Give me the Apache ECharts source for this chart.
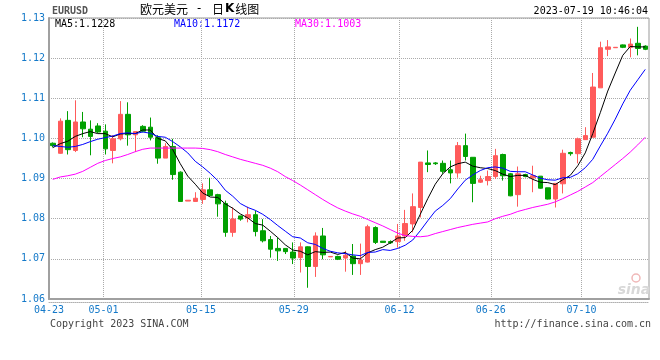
<!DOCTYPE html>
<html><head><meta charset="utf-8">
<script src="https://cdn.jsdelivr.net/npm/echarts@6/dist/echarts.min.js"></script>
<style>html,body{margin:0;padding:0;background:#fff}#c{width:660px;height:360px}</style>
</head><body><div id="c"></div>
<script>
// ---- data ----
const opens = [1.0988,1.0963,1.1045,1.0970,1.1041,1.1023,1.1031,1.1018,1.0970,1.0999,
1.1060,1.1009,1.1030,1.1028,1.1002,1.0951,1.0980,1.0916,1.0844,1.0843,
1.0848,1.0872,1.0860,1.0838,1.0766,1.0807,1.0802,1.0810,1.0770,1.0748,
1.0726,1.0726,1.0717,1.0703,1.0730,1.0681,1.0757,1.0705,1.0706,1.0702,
1.0707,1.0688,1.0692,1.0778,1.0744,1.0743,1.0743,1.0757,1.0787,1.0828,
1.0939,1.0939,1.0938,1.0922,1.0914,1.0982,1.0953,1.0891,1.0895,1.0905,
1.0960,1.0912,1.0860,1.0910,1.0902,1.0906,1.0877,1.0849,1.0887,1.0965,
1.0962,1.0997,1.1003,1.1126,1.1222,1.1226,1.1233,1.1227,1.1237,1.1230];
const closes = [1.0982,1.1043,1.0972,1.1041,1.1024,1.1005,1.1016,1.0974,1.0999,1.1060,
1.1009,1.1017,1.1018,1.1003,1.0951,1.0980,1.0910,1.0843,1.0846,1.0851,
1.0872,1.0858,1.0837,1.0766,1.0799,1.0799,1.0810,1.0768,1.0745,1.0724,
1.0720,1.0718,1.0702,1.0730,1.0681,1.0757,1.0710,1.0706,1.0699,1.0709,
1.0688,1.0697,1.0780,1.0741,1.0741,1.0740,1.0757,1.0788,1.0830,1.0941,
1.0935,1.0937,1.0918,1.0914,1.0982,1.0955,1.0888,1.0897,1.0905,1.0957,
1.0907,1.0857,1.0912,1.0905,1.0907,1.0876,1.0849,1.0888,1.0963,1.0962,
1.0999,1.1007,1.1128,1.1226,1.1228,1.1227,1.1227,1.1235,1.1224,1.1222];
const lows = [1.0978,1.0962,1.0960,1.0966,1.1003,1.0958,1.1013,1.0960,1.0938,1.0995,
1.0982,1.0966,1.1015,1.0995,1.0937,1.0951,1.0897,1.0843,1.0844,1.0843,
1.0837,1.0855,1.0805,1.0755,1.0755,1.0795,1.0791,1.0756,1.0741,1.0703,
1.0695,1.0712,1.0687,1.0666,1.0628,1.0655,1.0699,1.0705,1.0697,1.0668,
1.0660,1.0660,1.0691,1.0737,1.0741,1.0737,1.0728,1.0745,1.0766,1.0803,
1.0916,1.0934,1.0912,1.0888,1.0902,1.0945,1.0841,1.0889,1.0883,1.0899,
1.0895,1.0856,1.0830,1.0903,1.0866,1.0875,1.0848,1.0828,1.0863,1.0957,
1.0938,1.0997,1.1003,1.1126,1.1205,1.1226,1.1225,1.1202,1.1207,1.1220];
const highs = [1.0990,1.1050,1.1068,1.1095,1.1066,1.1045,1.1038,1.1035,1.1008,1.1093,
1.1090,1.1017,1.1033,1.1052,1.1008,1.0988,1.0999,1.0918,1.0846,1.0866,
1.0888,1.0902,1.0862,1.0845,1.0828,1.0807,1.0830,1.0820,1.0799,1.0757,
1.0753,1.0726,1.0741,1.0741,1.0731,1.0766,1.0777,1.0706,1.0708,1.0720,
1.0737,1.0738,1.0785,1.0781,1.0744,1.0746,1.0787,1.0822,1.0863,1.0941,
1.0970,1.0941,1.0945,1.0945,1.0991,1.1012,1.0953,1.0907,1.0920,1.0974,
1.0962,1.0914,1.0930,1.0912,1.0932,1.0906,1.0877,1.0888,1.0972,1.0967,
1.1002,1.1028,1.1163,1.1241,1.1245,1.1227,1.1234,1.1249,1.1278,1.1232];
const ma5 = [1.0977,1.0987,1.0993,1.1005,1.1012,1.1017,1.1012,1.1012,1.1004,1.1011,
1.1012,1.1012,1.1021,1.1021,1.1000,1.0994,1.0972,1.0937,1.0906,1.0886,
1.0864,1.0854,1.0853,1.0837,1.0826,1.0812,1.0802,1.0788,1.0784,1.0769,
1.0753,1.0735,1.0722,1.0719,1.0710,1.0718,1.0716,1.0717,1.0711,1.0716,
1.0702,1.0700,1.0715,1.0723,1.0729,1.0740,1.0752,1.0753,1.0771,1.0811,
1.0850,1.0886,1.0912,1.0929,1.0937,1.0941,1.0931,1.0927,1.0925,1.0920,
1.0911,1.0905,1.0908,1.0908,1.0898,1.0891,1.0890,1.0885,1.0897,1.0908,
1.0932,1.0964,1.1012,1.1064,1.1118,1.1163,1.1207,1.1229,1.1228,1.1228];
const ma10 = [1.0982,1.0980,1.0978,1.0980,1.0985,1.0992,1.0998,1.1002,1.1006,1.1012,
1.1014,1.1012,1.1016,1.1013,1.1005,1.1003,1.0992,1.0979,1.0964,1.0943,
1.0929,1.0913,1.0895,1.0871,1.0856,1.0838,1.0828,1.0821,1.0811,1.0798,
1.0783,1.0769,1.0755,1.0752,1.0740,1.0736,1.0726,1.0719,1.0715,1.0713,
1.0710,1.0708,1.0716,1.0717,1.0723,1.0721,1.0726,1.0734,1.0747,1.0770,
1.0795,1.0819,1.0833,1.0850,1.0874,1.0896,1.0909,1.0920,1.0927,1.0929,
1.0926,1.0918,1.0917,1.0917,1.0909,1.0901,1.0897,1.0896,1.0902,1.0903,
1.0912,1.0927,1.0948,1.0981,1.1013,1.1048,1.1086,1.1120,1.1146,1.1172];
const ma30 = [1.0898,1.0904,1.0907,1.0911,1.0918,1.0928,1.0938,1.0945,1.0950,1.0954,
1.0960,1.0967,1.0973,1.0976,1.0976,1.0976,1.0976,1.0976,1.0976,1.0976,
1.0975,1.0972,1.0967,1.0960,1.0954,1.0948,1.0943,1.0938,1.0933,1.0926,
1.0917,1.0905,1.0895,1.0884,1.0872,1.0860,1.0848,1.0837,1.0827,1.0819,
1.0812,1.0806,1.0798,1.0790,1.0782,1.0773,1.0764,1.0758,1.0756,1.0755,
1.0757,1.0763,1.0768,1.0773,1.0778,1.0782,1.0786,1.0789,1.0792,1.0800,
1.0806,1.0811,1.0818,1.0823,1.0828,1.0832,1.0836,1.0842,1.0850,1.0859,
1.0868,1.0879,1.0890,1.0905,1.0920,1.0935,1.0950,1.0966,1.0984,1.1003];
const dateLabels = ['04-23','05-01','05-15','05-29','06-12','06-26','07-10'];
const symbolName = 'EURUSD';
const titleCN = '欧元美元';
const stamp = '2023-07-19 10:46:04';

// ---- chart ----
const categories = opens.map((_, i) => String(i + 1));
const candleData = opens.map((o, i) => [o, closes[i], lows[i], highs[i]]);
const datePos = [0, 7.27, 20.27, 32.64, 46.73, 58.9, 71.0]; // label positions in candle units
const mono = '"DejaVu Sans Mono", monospace';
const cjk = '"Noto Sans CJK SC", sans-serif';
const blueLbl = '#1479c9';
const dots = [1, 1];
const last = a => a[a.length - 1].toFixed(4);

const chart = echarts.init(document.getElementById('c'), null, {renderer: 'canvas'});
chart.setOption({
  animation: false,
  backgroundColor: '#fff',
  grid: {left: 49, right: 11, top: 18, bottom: 61, show: true, borderColor: '#999', borderWidth: 1, backgroundColor: 'transparent'},
  xAxis: [
    {type: 'category', data: categories, position: 'bottom', boundaryGap: true,
     axisLine: {show: true, onZero: false, lineStyle: {color: '#a0a0a0', width: 2}},
     axisTick: {show: false}, axisLabel: {show: false}, splitLine: {show: false}},
    {type: 'value', min: 0, max: categories.length, position: 'bottom', offset: 3,
     axisLine: {show: true, onZero: false, lineStyle: {color: '#b0b0b0', type: dots}},
     axisTick: {show: false, customValues: datePos},
     axisLabel: {customValues: datePos, color: blueLbl, fontFamily: mono, fontSize: 10, margin: 3,
       formatter: v => { let k = 0, b = 1e9; datePos.forEach((p, i) => { if (Math.abs(p - v) < b) { b = Math.abs(p - v); k = i; } }); return dateLabels[k]; }},
     splitLine: {show: true, lineStyle: {color: '#aaa', type: dots}}}
  ],
  yAxis: {type: 'value', min: 1.06, max: 1.13, interval: 0.01,
    axisLine: {show: true, lineStyle: {color: '#a0a0a0', width: 2}},
    axisTick: {show: false},
    axisLabel: {color: blueLbl, fontFamily: mono, fontSize: 10, margin: 4, formatter: v => v.toFixed(2)},
    splitLine: {show: true, lineStyle: {color: '#aaa', type: dots}}},
  series: [
    {type: 'candlestick', xAxisIndex: 0, data: candleData, barWidth: 5,
     itemStyle: {color: '#ff5b5b', color0: '#00a000', borderColor: '#ff5b5b', borderColor0: '#00a000', borderWidth: 1}},
    {type: 'line', name: 'MA5', data: ma5, symbol: 'none', lineStyle: {color: '#000', width: 1}, z: 5},
    {type: 'line', name: 'MA10', data: ma10, symbol: 'none', lineStyle: {color: '#0000ff', width: 1}, z: 5},
    {type: 'line', name: 'MA30', data: ma30, symbol: 'none', lineStyle: {color: '#ff00ff', width: 1}, z: 5}
  ],
  graphic: [
    {type: 'text', x: 52, y: 11, style: {text: symbolName, fill: '#555', font: 'bold 10px ' + mono, verticalAlign: 'middle'}},
    {type: 'text', x: 140, y: 9, style: {text: titleCN, fill: '#000', font: '12px ' + cjk, verticalAlign: 'middle'}},
    {type: 'text', x: 199, y: 9, style: {text: '-', fill: '#000', font: '12px ' + mono, verticalAlign: 'middle', align: 'center'}},
    {type: 'text', x: 212, y: 9, style: {text: '{a|日}{b|K}{a|线图}', verticalAlign: 'middle',
      rich: {a: {fill: '#000', font: '12px ' + cjk}, b: {fill: '#000', font: 'bold 12px "DejaVu Sans"', padding: [0, 1, 0, 1]}}}},
    {type: 'text', x: 648, y: 11, style: {text: stamp, fill: '#000', font: '10px ' + mono, verticalAlign: 'middle', align: 'right'}},
    {type: 'text', x: 55, y: 24, style: {text: 'MA5:' + last(ma5), fill: '#000', font: '10px ' + mono, verticalAlign: 'middle'}},
    {type: 'text', x: 174, y: 24, style: {text: 'MA10:' + last(ma10), fill: '#0000ff', font: '10px ' + mono, verticalAlign: 'middle'}},
    {type: 'text', x: 295, y: 24, style: {text: 'MA30:' + last(ma30), fill: '#ff00ff', font: '10px ' + mono, verticalAlign: 'middle'}},
    {type: 'text', x: 50, y: 324, style: {text: 'Copyright 2023 SINA.COM', fill: '#444', font: '10px ' + mono, verticalAlign: 'middle'}},
    {type: 'text', x: 651, y: 324, style: {text: 'http://finance.sina.com.cn', fill: '#444', font: '10px ' + mono, verticalAlign: 'middle', align: 'right'}},
    {type: 'circle', shape: {cx: 636, cy: 278, r: 4}, style: {fill: 'none', stroke: '#f0b8b8', lineWidth: 1.5}},
    {type: 'text', x: 634, y: 290, style: {text: 'sina', fill: '#d8d8d8', font: 'italic bold 14px "DejaVu Sans"', verticalAlign: 'middle', align: 'center'}}
  ]
});
</script></body></html>
